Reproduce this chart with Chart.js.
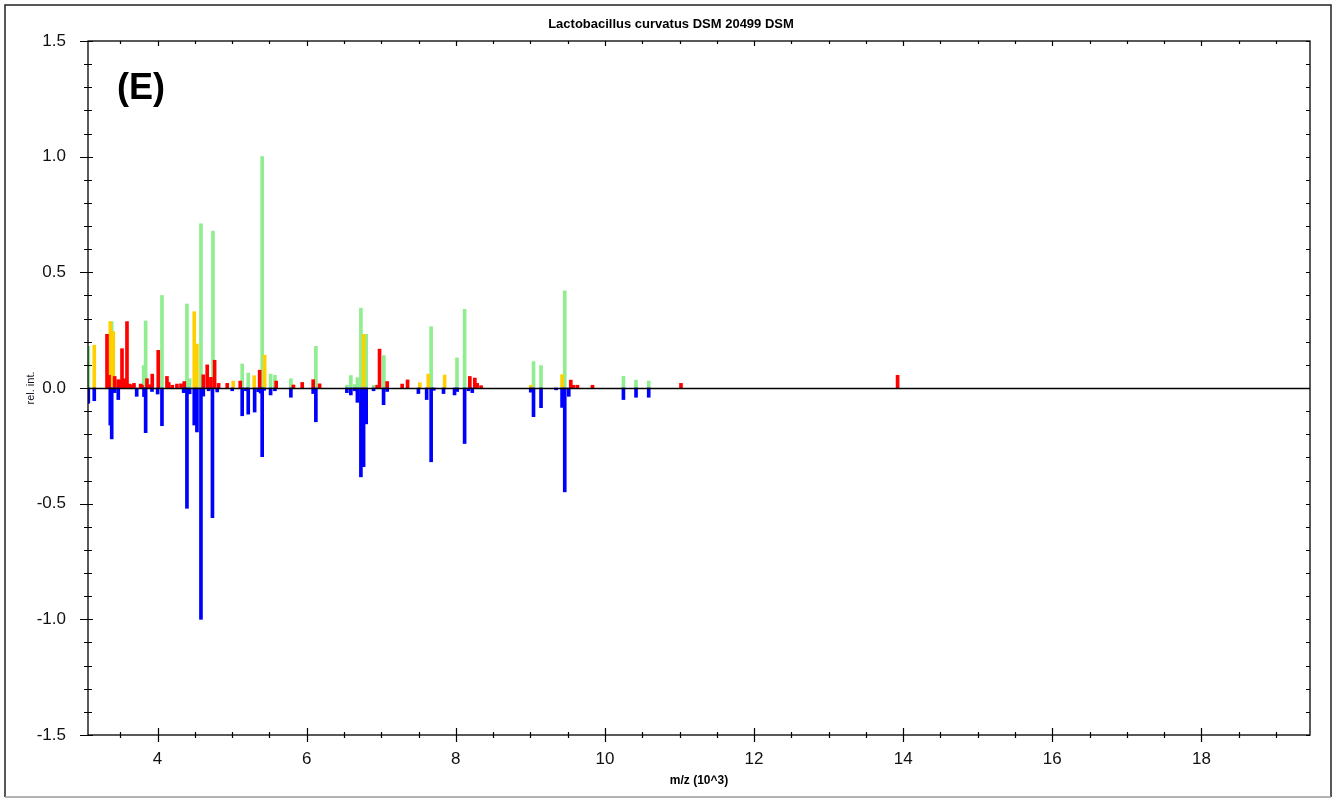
<!DOCTYPE html>
<html><head><meta charset="utf-8">
<script src="https://cdn.jsdelivr.net/npm/chart.js@4/dist/chart.umd.min.js"></script>
<style>html,body{margin:0;padding:0;background:#fff;} canvas{display:block}</style>
</head><body>
<canvas id="c" width="1335" height="799"></canvas>
<script>
const titleText = 'Lactobacillus curvatus DSM 20499 DSM';
const panelLabel = '(E)';
const xTitle = 'm/z (10^3)';
const yTitle = 'rel. int.';
const xTicks = [4, 6, 8, 10, 12, 14, 16, 18];
const yTicks = [-1.5, -1.0, -0.5, 0, 0.5, 1.0, 1.5];

// matching peaks (green)
const greenMz  = [3.071, 3.385, 3.814, 3.84, 4.059, 4.394, 4.43, 4.582, 4.743, 5.135, 5.216, 5.403, 5.516, 5.574, 5.788, 6.123, 6.539, 6.592, 6.642, 6.68, 6.727, 6.798, 6.897, 7.035, 7.669, 8.016, 8.118, 9.042, 9.143, 9.461, 10.248, 10.417, 10.587];
const greenInt = [0.18, 0.287, 0.097, 0.29, 0.40, 0.363, 0.04, 0.71, 0.678, 0.104, 0.065, 1.0, 0.06, 0.055, 0.04, 0.18, 0.012, 0.054, 0.015, 0.045, 0.345, 0.232, 0.012, 0.14, 0.265, 0.13, 0.34, 0.114, 0.097, 0.42, 0.05, 0.034, 0.03];

// partially matching peaks (yellow)
const yellowMz  = [3.151, 3.366, 3.406, 4.492, 4.528, 4.685, 5.015, 5.296, 5.436, 6.763, 7.517, 7.631, 7.85, 9.005, 9.425];
const yellowInt = [0.185, 0.287, 0.244, 0.33, 0.19, 0.03, 0.03, 0.053, 0.142, 0.232, 0.023, 0.06, 0.056, 0.012, 0.058];

// non-matching peaks (red)
const redMz  = [3.322, 3.349, 3.425, 3.473, 3.496, 3.523, 3.554, 3.59, 3.621, 3.653, 3.684, 3.773, 3.791, 3.858, 3.898, 3.929, 4.009, 4.126, 4.149, 4.197, 4.26, 4.314, 4.358, 4.613, 4.666, 4.716, 4.765, 4.819, 4.934, 5.109, 5.369, 5.591, 5.822, 5.94, 6.087, 6.173, 6.945, 6.977, 7.079, 7.28, 7.353, 8.188, 8.255, 8.286, 8.339, 9.542, 9.578, 9.631, 9.833, 11.02, 13.925];
const redInt = [0.232, 0.055, 0.05, 0.036, 0.033, 0.17, 0.04, 0.287, 0.017, 0.014, 0.02, 0.017, 0.012, 0.04, 0.014, 0.06, 0.163, 0.05, 0.024, 0.012, 0.017, 0.018, 0.028, 0.057, 0.10, 0.046, 0.12, 0.02, 0.02, 0.03, 0.077, 0.03, 0.013, 0.024, 0.036, 0.018, 0.012, 0.168, 0.028, 0.017, 0.035, 0.05, 0.043, 0.02, 0.01, 0.034, 0.012, 0.012, 0.012, 0.02, 0.055];

// reference spectrum (blue, mirrored)
const blueMz  = [3.071, 3.151, 3.366, 3.385, 3.425, 3.473, 3.72, 3.818, 3.84, 3.925, 4.001, 4.059, 4.35, 4.367, 4.394, 4.43, 4.492, 4.528, 4.582, 4.613, 4.685, 4.736, 4.8, 5.001, 5.135, 5.185, 5.216, 5.302, 5.35, 5.382, 5.403, 5.43, 5.516, 5.574, 5.788, 6.087, 6.123, 6.539, 6.592, 6.642, 6.68, 6.727, 6.763, 6.798, 6.897, 7.031, 7.079, 7.498, 7.609, 7.669, 7.704, 7.835, 7.983, 8.018, 8.118, 8.17, 8.221, 9.005, 9.042, 9.143, 9.345, 9.425, 9.461, 9.515, 10.248, 10.417, 10.587];
const blueInt = [-0.066, -0.055, -0.16, -0.22, -0.02, -0.05, -0.036, -0.037, -0.193, -0.015, -0.026, -0.163, -0.02, -0.018, -0.52, -0.025, -0.16, -0.19, -1.0, -0.035, -0.012, -0.56, -0.017, -0.012, -0.12, -0.012, -0.113, -0.104, -0.016, -0.022, -0.297, -0.01, -0.03, -0.012, -0.04, -0.024, -0.146, -0.02, -0.03, -0.012, -0.062, -0.384, -0.34, -0.155, -0.012, -0.072, -0.015, -0.024, -0.05, -0.319, -0.01, -0.024, -0.03, -0.015, -0.24, -0.012, -0.02, -0.018, -0.124, -0.085, -0.008, -0.084, -0.449, -0.036, -0.05, -0.04, -0.04];

const FONT = '"Liberation Sans", Arial, sans-serif';
const pts = (xs, ys) => xs.map((v, i) => ({x: v, y: ys[i]}));
const ds = (label, xs, ys, color) => ({
  label, data: pts(xs, ys), backgroundColor: color, borderWidth: 0,
  barThickness: 3, grouped: false
});

const deco = {
  id: 'deco',
  beforeDraw(chart) {
    const ctx = chart.ctx;
    ctx.save(); ctx.fillStyle = '#fff'; ctx.fillRect(0, 0, chart.width, chart.height); ctx.restore();
  },
  afterDatasetsDraw(chart) {
    const {ctx, chartArea: a, scales: {x, y}} = chart;
    ctx.save();
    ctx.strokeStyle = '#000';
    const y0 = Math.round(y.getPixelForValue(0)) + 0.5;
    ctx.lineWidth = 1.5;
    ctx.beginPath(); ctx.moveTo(a.left, y0); ctx.lineTo(a.right, y0); ctx.stroke();
    ctx.lineWidth = 1.3;
    ctx.strokeRect(a.left, a.top, a.right - a.left, a.bottom - a.top);
    ctx.lineWidth = 1.2;
    for (let i = -15; i <= 15; i++) {
      const py = Math.round(y.getPixelForValue(i / 10)) + 0.5;
      const major = i % 5 === 0;
      ctx.beginPath();
      if (major) { ctx.moveTo(a.left - 8, py); ctx.lineTo(a.left + 5, py); }
      else { ctx.moveTo(a.left - 4, py); ctx.lineTo(a.left + 4, py); }
      ctx.moveTo(a.right - 4, py); ctx.lineTo(a.right, py);
      ctx.stroke();
    }
    for (let i = Math.ceil(x.min * 2); i <= Math.floor(x.max * 2); i++) {
      const px = Math.round(x.getPixelForValue(i / 2)) + 0.5;
      const major = i % 4 === 0;
      ctx.beginPath();
      if (major) { ctx.moveTo(px, a.bottom - 7); ctx.lineTo(px, a.bottom + 7); ctx.moveTo(px, a.top); ctx.lineTo(px, a.top + 5); }
      else { ctx.moveTo(px, a.bottom - 3); ctx.lineTo(px, a.bottom + 3); ctx.moveTo(px, a.top); ctx.lineTo(px, a.top + 3); }
      ctx.stroke();
    }
    ctx.fillStyle = '#000';
    ctx.font = 'bold 36px ' + FONT;
    ctx.textBaseline = 'middle'; ctx.textAlign = 'left';
    ctx.fillText(panelLabel, 117, 89);
    // chart title
    ctx.font = 'bold 13px ' + FONT;
    ctx.textAlign = 'center';
    ctx.fillText(titleText, 671, 24);
    // outer frame
    ctx.lineWidth = 1.5;
    ctx.strokeStyle = '#222';
    ctx.beginPath();
    ctx.moveTo(5, 797); ctx.lineTo(5, 5); ctx.lineTo(1331, 5); ctx.lineTo(1331, 797);
    ctx.stroke();
    ctx.strokeStyle = '#9a9a9a';
    ctx.beginPath(); ctx.moveTo(5, 797); ctx.lineTo(1331, 797); ctx.stroke();
    ctx.restore();
  }
};

new Chart(document.getElementById('c'), {
  type: 'bar',
  data: {
    datasets: [
      ds('reference', blueMz, blueInt, '#0000ff'),
      ds('no match', redMz, redInt, '#ff0000'),
      ds('partial match', yellowMz, yellowInt, '#ffd000'),
      ds('match', greenMz, greenInt, '#90ee90')
    ]
  },
  options: {
    responsive: false,
    animation: false,
    devicePixelRatio: 1,
    layout: {padding: {left: 0, right: 25, top: 41, bottom: 0}},
    plugins: {
      legend: {display: false},
      tooltip: {enabled: false},
      title: {display: false}
    },
    scales: {
      x: {
        type: 'linear', min: 3.067, max: 19.456, offset: false,
        afterBuildTicks: s => { s.ticks = xTicks.map(v => ({value: v})); },
        afterFit: s => { s.height = 64; },
        grid: {display: false, drawTicks: false},
        border: {display: false},
        ticks: {color: '#111', font: {family: FONT, size: 17}, padding: 14, maxRotation: 0, autoSkip: false,
          callback: v => String(v)},
        title: {display: true, text: xTitle, color: '#000',
          font: {family: FONT, size: 12, weight: 'bold', lineHeight: 1.2}, padding: {top: 0, bottom: 11}}
      },
      y: {
        min: -1.5, max: 1.5,
        afterBuildTicks: s => { s.ticks = yTicks.map(v => ({value: v})); },
        afterFit: s => { s.width = 88; },
        grid: {display: false, drawTicks: false},
        border: {display: false},
        ticks: {color: '#111', font: {family: FONT, size: 17}, padding: 22, autoSkip: false,
          callback: v => Number(v).toFixed(1)},
        title: {display: true, text: yTitle, color: '#112',
          font: {family: FONT, size: 11, lineHeight: 1.2}, padding: {top: 24, bottom: 0}}
      }
    }
  },
  plugins: [deco]
});
</script>
</body></html>
